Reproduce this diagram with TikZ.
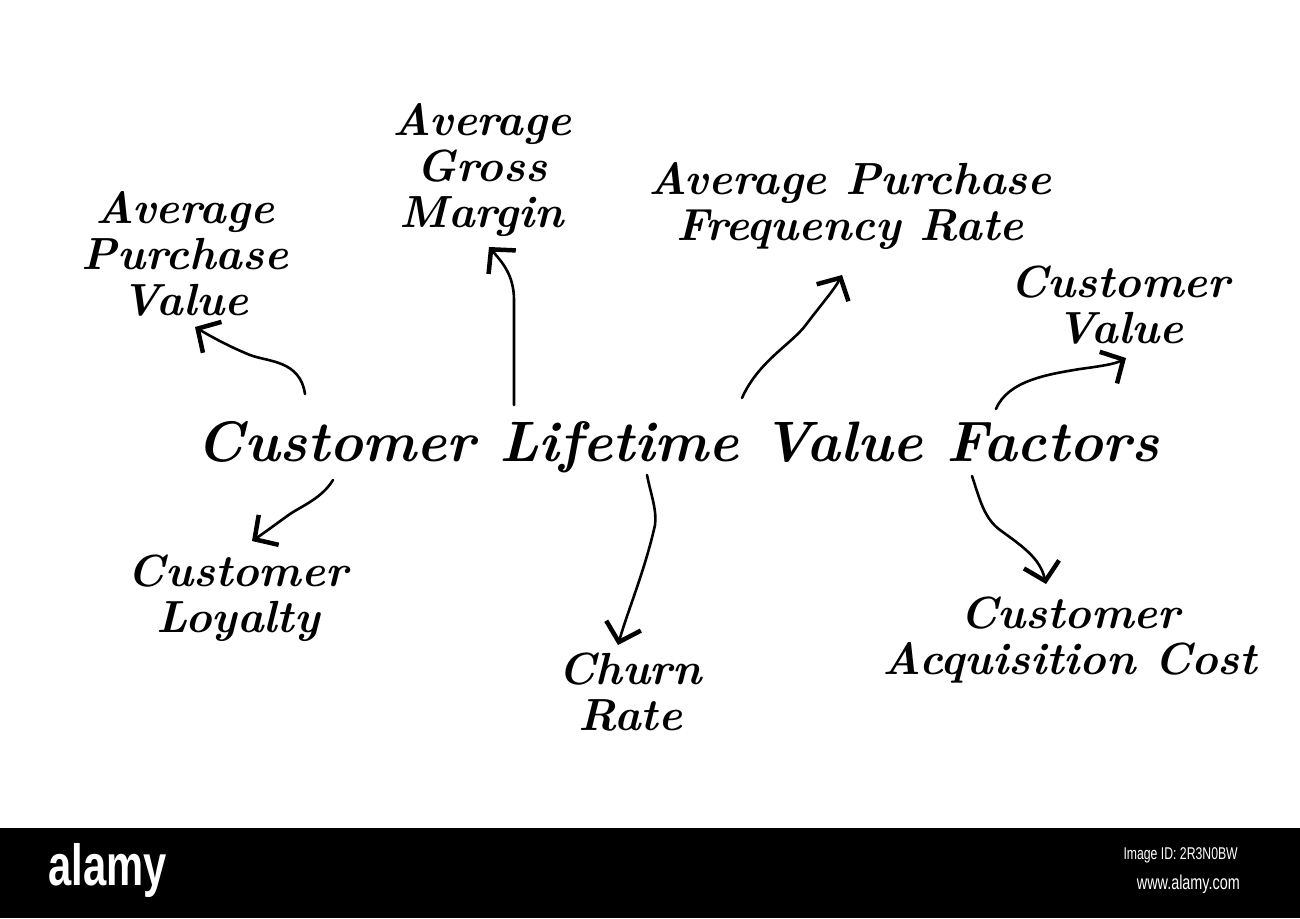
\documentclass[tikz,border=0pt]{standalone}
\usepackage{fontspec}
\newfontfamily\footfont{Liberation Sans}[FakeStretch=0.72]
\usetikzlibrary{arrows.meta}
\tikzset{
  hand/.style={font=\bfseries\itshape\addfontfeatures{FakeStretch=1.03}\fontsize{45}{46}\selectfont, align=center, inner sep=0pt},
  titlefont/.style={font=\bfseries\itshape\addfontfeatures{FakeStretch=1.03}\fontsize{57}{60}\selectfont, inner sep=0pt},
  conn/.style={line width=2.6pt, line cap=round, line join=round,
    -{Straight Barb[length=17pt,width=36pt,line width=4.5pt]}},
}
\begin{document}
\begin{tikzpicture}[x=1pt,y=-1pt]
\useasboundingbox (0,0) rectangle (1300,918);
\fill[white] (0,0) rectangle (1300,918);
% footer band
\fill[black] (0,828) rectangle (1300,918);
\node[font=\footfont\bfseries\fontsize{58}{58}\selectfont, text=white, anchor=west, inner sep=0pt] (brand) at (48,870) {alamy};
\node[font=\footfont\fontsize{17}{17}\selectfont, text=white, anchor=east, inner sep=0pt] (imgid) at (1238,855) {Image ID: 2R3N0BW};
\node[font=\footfont\fontsize{20}{20}\selectfont, text=white, anchor=east, inner sep=0pt] (site) at (1240,884) {www.alamy.com};

% labels
\node[titlefont] (title) at (678,447) {Customer Lifetime Value Factors};
\node[hand] (apv) at (185,254) {Average\\Purchase\\Value};
\node[hand] (agm) at (482,170) {Average\\Gross\\Margin};
\node[hand] (apf) at (850,206) {Average Purchase\\Frequency Rate};
\node[hand] (cv) at (1120,305) {Customer\\Value};
\node[hand] (cl) at (238,598) {Customer\\Loyalty};
\node[hand] (cr) at (630,692) {Churn\\Rate};
\node[hand] (cac) at (1070,640) {Customer\\Acquisition Cost};

% arrow ends
\coordinate (s1) at (305,394); \coordinate (t1) at (195,327);
\coordinate (s2) at (514,405); \coordinate (t2) at (489,247);
\coordinate (s3) at (742,398); \coordinate (t3) at (842,275);
\coordinate (s4) at (996,409); \coordinate (t4) at (1126,358);
\coordinate (s5) at (333,480); \coordinate (t5) at (252,541);
\coordinate (s6) at (647,475); \coordinate (t6) at (618,645);
\coordinate (s7) at (972,476); \coordinate (t7) at (1046,584);

\draw[conn] (s1) .. controls (300,360) and (268,362) .. (250,355)
                 .. controls (230,347) and (210,336) .. (t1);
\draw[conn] (s2) -- (514,300) .. controls (514,275) and (502,262) .. (t2);
\draw[conn] (s3) .. controls (758,362) and (790,345) .. (805,326)
                 .. controls (820,306) and (834,290) .. (t3);
\draw[conn] (s4) .. controls (1008,380) and (1050,374) .. (1080,369)
                 .. controls (1102,366) and (1115,364) .. (t4);
\draw[conn] (s5) .. controls (322,498) and (302,506) .. (290,514)
                 .. controls (276,524) and (264,533) .. (t5);
\draw[conn] (s6) .. controls (651,495) and (657,510) .. (655,525)
                 .. controls (645,570) and (628,610) .. (t6);
\draw[conn] (s7) .. controls (980,500) and (984,518) .. (1000,530)
                 .. controls (1022,546) and (1040,558) .. (t7);
\end{tikzpicture}
\end{document}
